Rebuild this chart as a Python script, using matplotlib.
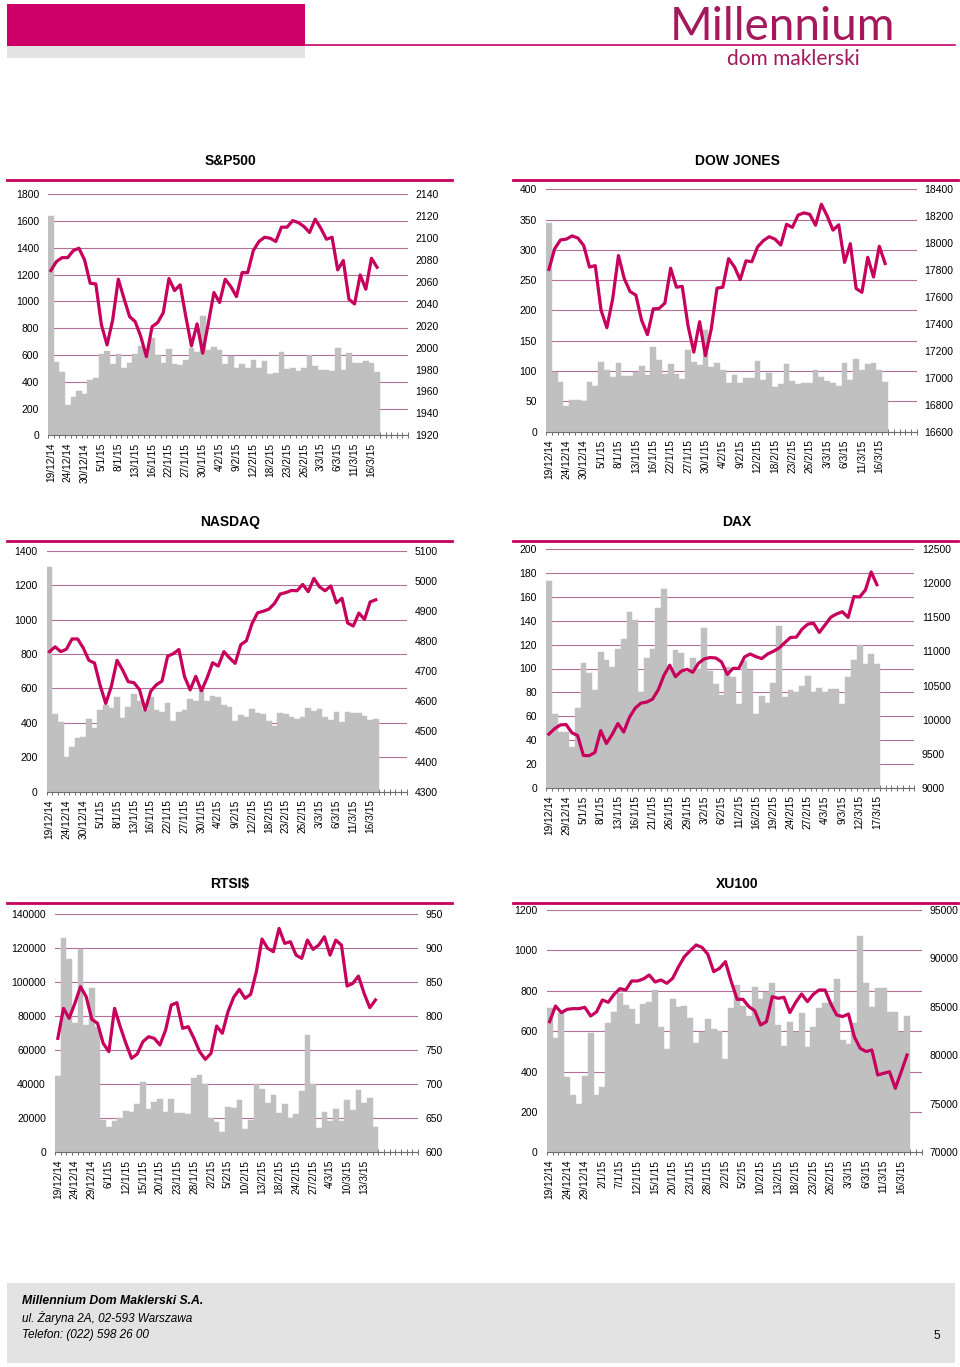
"""
Millennium DM page 5: six index panels (turnover bars + index line).
"""

import numpy as np
import matplotlib
matplotlib.use("Agg")
import matplotlib.pyplot as plt
from matplotlib.patches import Rectangle

plt.rcParams["font.family"] = ["Liberation Sans", "DejaVu Sans"]

# ---- data ----
SP_LABELS = ["19/12/14", "24/12/14", "30/12/14", "5/1/15", "8/1/15", "13/1/15", "16/1/15",
             "22/1/15", "27/1/15", "30/1/15", "4/2/15", "9/2/15", "12/2/15", "18/2/15",
             "23/2/15", "26/2/15", "3/3/15", "6/3/15", "11/3/15", "16/3/15"]
SP_VOL = [1638, 548, 473, 224, 284, 331, 306, 413, 426, 610, 630, 535, 605, 503, 538, 610,
          670, 600, 730, 600, 540, 645, 535, 528, 565, 650, 620, 890, 640, 660, 640, 530,
          590, 500, 535, 505, 560, 500, 555, 458, 462, 620, 495, 500, 478, 505, 600, 515,
          488, 488, 480, 652, 490, 615, 540, 540, 555, 540, 475]
SP_IDX = [2070.4, 2078.6, 2082.2, 2082.2, 2088.6, 2090.8, 2080.1, 2058.8, 2058.2, 2020.8,
          2002.5, 2025.3, 2062.5, 2045.1, 2028.4, 2023.8, 2010.1, 1991.8, 2019.2, 2022.9,
          2032.0, 2063.1, 2052.1, 2057.3, 2028.4, 2001.6, 2021.7, 1994.9, 2022.3, 2050.3,
          2041.2, 2062.5, 2055.8, 2046.6, 2068.5, 2068.5, 2088.6, 2096.9, 2100.8, 2099.9,
          2096.9, 2110.0, 2110.0, 2116.0, 2114.2, 2110.6, 2105.1, 2117.3, 2109.0, 2099.0,
          2100.8, 2071.0, 2079.5, 2044.2, 2039.9, 2066.4, 2053.3, 2081.6, 2073.4]

DJ_LABELS = SP_LABELS
DJ_VOL = [344, 98, 82, 42, 52, 53, 50, 82, 75, 115, 101, 91, 114, 92, 92, 99, 109, 94, 140,
          118, 95, 111, 96, 87, 135, 115, 110, 168, 107, 113, 102, 80, 94, 81, 89, 89, 117,
          85, 97, 74, 79, 111, 84, 79, 80, 81, 101, 90, 84, 81, 75, 114, 85, 120, 101, 111,
          114, 102, 82]
DJ_IDX = [17805, 17959, 18024, 18030, 18054, 18038, 17983, 17823, 17833, 17502, 17372, 17585,
          17908, 17737, 17641, 17614, 17427, 17321, 17512, 17515, 17554, 17814, 17673, 17679,
          17387, 17191, 17417, 17165, 17361, 17666, 17673, 17885, 17824, 17729, 17869, 17862,
          17972, 18019, 18048, 18030, 17986, 18140, 18117, 18209, 18225, 18214, 18133, 18289,
          18203, 18097, 18136, 17857, 17996, 17663, 17635, 17895, 17749, 17977, 17849]

NQ_LABELS = SP_LABELS
NQ_VOL = [1307, 449, 403, 199, 261, 310, 316, 422, 368, 474, 503, 484, 552, 430, 494, 567,
          528, 474, 552, 474, 465, 517, 412, 465, 474, 536, 528, 590, 527, 556, 552, 503,
          494, 410, 445, 436, 480, 459, 451, 410, 381, 459, 453, 432, 422, 436, 484, 468,
          480, 436, 416, 463, 403, 461, 459, 455, 439, 416, 420]
NQ_IDX = [4765, 4781, 4765, 4773, 4807, 4807, 4777, 4736, 4727, 4653, 4593, 4650, 4736, 4704,
          4665, 4662, 4639, 4571, 4634, 4655, 4667, 4750, 4758, 4772, 4682, 4638, 4683, 4635,
          4677, 4728, 4717, 4765, 4744, 4726, 4788, 4801, 4858, 4894, 4899, 4906, 4925, 4956,
          4961, 4968, 4967, 4988, 4964, 5008, 4980, 4967, 4983, 4927, 4942, 4860, 4850, 4893,
          4872, 4930, 4937]

DAX_LABELS = ["19/12/14", "29/12/14", "5/1/15", "8/1/15", "13/1/15", "16/1/15", "21/1/15",
              "26/1/15", "29/1/15", "3/2/15", "6/2/15", "11/2/15", "16/2/15", "19/2/15",
              "24/2/15", "27/2/15", "4/3/15", "9/3/15", "12/3/15", "17/3/15"]
DAX_VOL = [173, 61.5, 47, 46.4, 34.4, 67, 105, 96, 82, 114, 107, 101, 116, 124.5, 147.4,
           140.7, 80, 109, 116, 150.5, 167, 100, 115.5, 112.7, 97, 108.5, 100, 133.7, 98, 87,
           78, 101, 93, 70, 106, 99, 61.5, 77, 71, 87.5, 135.6, 76, 82, 80.5, 85, 94, 80, 84,
           80, 82.5, 82.5, 70, 92.6, 107, 119.4, 104, 112, 104]
DAX_IDX = [9787, 9866, 9922, 9927, 9806, 9765, 9473, 9470, 9518, 9838, 9649, 9782, 9942,
           9817, 10033, 10168, 10242, 10257, 10299, 10436, 10650, 10798, 10629, 10711, 10738,
           10694, 10828, 10891, 10911, 10905, 10846, 10664, 10752, 10752, 10920, 10963, 10923,
           10896, 10962, 11002, 11051, 11131, 11206, 11210, 11328, 11402, 11414, 11280, 11390,
           11504, 11551, 11583, 11500, 11806, 11799, 11902, 12168, 11981]

RTS_LABELS = ["19/12/14", "24/12/14", "29/12/14", "6/1/15", "12/1/15", "15/1/15", "20/1/15",
              "23/1/15", "28/1/15", "2/2/15", "5/2/15", "10/2/15", "13/2/15", "18/2/15",
              "24/2/15", "27/2/15", "4/3/15", "10/3/15", "13/3/15"]
RTS_VOL = [45100, 126300, 113500, 75900, 119400, 74900, 96900, 73900, 19000, 15100, 18600,
           20000, 24500, 23500, 28400, 41200, 25300, 29400, 31400, 23900, 31400, 22900,
           22900, 22600, 43500, 45500, 40200, 20000, 17600, 11800, 26900, 25900, 30800,
           13500, 19000, 40000, 37100, 28800, 33700, 22900, 28400, 20000, 22400, 36300,
           69000, 40000, 14100, 23500, 18400, 25300, 18400, 30800, 24900, 36700, 29200,
           31800, 15100]
RTS_IDX = [767.6, 811.7, 797.0, 819.0, 843.5, 828.8, 795.5, 789.7, 760.2, 748.0, 811.7,
           784.7, 760.2, 738.2, 744.6, 762.7, 770.0, 767.6, 757.8, 779.8, 816.6, 820.0,
           782.3, 784.7, 767.6, 748.0, 736.7, 745.5, 785.7, 775.0, 806.8, 827.9, 839.6,
           826.4, 832.3, 865.6, 913.6, 899.9, 895.0, 929.3, 907.2, 909.7, 890.0, 885.2,
           912.1, 898.4, 904.8, 917.0, 890.0, 912.0, 904.8, 844.5, 848.4, 859.2, 833.7,
           812.7, 824.0]

XU_LABELS = ["19/12/14", "24/12/14", "29/12/14", "2/1/15", "7/1/15", "12/1/15", "15/1/15",
             "20/1/15", "23/1/15", "28/1/15", "2/2/15", "5/2/15", "10/2/15", "13/2/15",
             "18/2/15", "23/2/15", "26/2/15", "3/3/15", "6/3/15", "11/3/15", "16/3/15"]
XU_VOL = [716, 568, 688, 375, 284, 239, 378, 589, 284, 325, 642, 696, 787, 729, 708, 635,
          733, 746, 804, 619, 510, 757, 721, 726, 665, 543, 597, 658, 609, 602, 460, 716,
          828, 724, 675, 817, 759, 795, 836, 630, 526, 643, 594, 688, 523, 622, 713, 741,
          745, 858, 556, 536, 639, 1073, 836, 721, 812, 812, 696, 693, 597, 675]
XU_IDX = [83481, 85097, 84410, 84754, 84822, 84822, 84960, 84066, 84478, 85717, 85476, 86301,
          86886, 86748, 87677, 87677, 87883, 88296, 87573, 87780, 87436, 87952, 89155, 90187,
          90806, 91391, 91150, 90428, 88639, 88983, 89671, 87607, 85785, 85785, 85028, 84616,
          83137, 83481, 86060, 85888, 85991, 84410, 85476, 86335, 85545, 86301, 86748, 86748,
          85300, 84166, 84000, 84270, 81927, 80730, 80400, 80555, 77975, 78150, 78316, 76600,
          78300, 80040]

# ---- style / layout ----
W, H = 960, 1367
SLOTS = 64
BAR = "#C0C0C0"
LINE = "#C6005C"
GRID = "#B46F98"
AXIS = "#6E6E6E"
MAGENTA = "#CC0066"
LOGO = "#A3195B"
FOOT = "#E3E3E3"


def fig_rect(x0, y0, x1, y1):
    return [x0 / W, 1 - y1 / H, (x1 - x0) / W, (y1 - y0) / H]


def draw_panel(fig, box, vol, idx, labels, left_ticks, right_ticks):
    ax = fig.add_axes(fig_rect(*box))
    x = np.arange(len(vol)) + 0.5
    ax.bar(x, vol, width=1.0, color=BAR, edgecolor=BAR, linewidth=0.3, zorder=2)
    ax.set_xlim(0, SLOTS)
    ax.set_ylim(left_ticks[0], left_ticks[-1])
    ax.set_yticks(left_ticks)
    ax.yaxis.grid(True, color=GRID, linewidth=0.8)
    ax.set_axisbelow(True)
    for side in ["top", "left", "right"]:
        ax.spines[side].set_visible(False)
    ax.spines["bottom"].set_color(AXIS)
    ax.spines["bottom"].set_linewidth(0.8)
    ax.spines["bottom"].set_zorder(4)

    ax.set_xticks(x[::3])
    ax.set_xticklabels(labels, rotation=90)
    ax.set_xticks(np.arange(SLOTS + 1), minor=True)
    ax.tick_params(axis="x", which="major", length=0, pad=5.5, labelsize=7.3)
    ax.tick_params(axis="x", which="minor", direction="inout", length=5,
                   width=0.7, color=AXIS)
    ax.tick_params(axis="y", length=0, pad=6.5, labelsize=7.5)

    ax2 = ax.twinx()
    ax2.plot(x, idx, color=LINE, linewidth=2.3, solid_joinstyle="round", zorder=3)
    ax2.set_ylim(right_ticks[0], right_ticks[-1])
    ax2.set_yticks(right_ticks)
    ax2.tick_params(axis="y", length=0, pad=5.5, labelsize=7.5)
    for s in ax2.spines.values():
        s.set_visible(False)
    return ax, ax2


def main() -> None:
    fig = plt.figure(figsize=(W / 100, H / 100), dpi=100)

    # page furniture in pixel coordinates
    bg = fig.add_axes([0, 0, 1, 1], zorder=-5)
    bg.set_xlim(0, W)
    bg.set_ylim(H, 0)
    bg.axis("off")

    bg.add_patch(Rectangle((7, 4), 298, 42, color=MAGENTA, lw=0))
    bg.add_patch(Rectangle((7, 46), 298, 12, color=FOOT, lw=0))
    bg.plot([305, 955], [45, 45], color=MAGENTA, lw=1.2)
    bg.text(783, 40, "Millennium", ha="center", va="baseline", fontsize=33,
            family=["Lato", "DejaVu Sans"], color=LOGO)
    bg.text(793, 59, "dom maklerski", ha="center", va="center", fontsize=15,
            family=["Lato", "DejaVu Sans"], color=LOGO)

    titles = [("S&P500", 230, 161, 7, 452, 180), ("DOW JONES", 737, 161, 513, 958, 180),
              ("NASDAQ", 230, 522, 7, 452, 541), ("DAX", 737, 522, 513, 958, 541),
              ("RTSI$", 230, 884, 7, 452, 903), ("XU100", 737, 884, 513, 958, 903)]
    for text, tx, ty, lx0, lx1, ly in titles:
        bg.text(tx, ty, text, ha="center", va="center", fontsize=10, fontweight="bold")
        bg.plot([lx0, lx1], [ly, ly], color=LINE, lw=2)

    # footer
    bg.add_patch(Rectangle((7, 1283), 948, 80, color=FOOT, lw=0))
    bg.text(22, 1301, "Millennium Dom Maklerski S.A.", fontsize=8.8, fontweight="bold",
            style="italic", va="center")
    bg.text(22, 1318, "ul. Żaryna 2A, 02-593 Warszawa", fontsize=8.5, style="italic",
            va="center")
    bg.text(22, 1335, "Telefon: (022) 598 26 00", fontsize=8.5, style="italic",
            va="center")
    bg.text(937, 1336, "5", fontsize=8.5, va="center", ha="center")

    draw_panel(fig, (48, 194.3, 408, 435.3), SP_VOL, SP_IDX, SP_LABELS,
               np.arange(0, 1801, 200), np.arange(1920, 2141, 20))
    draw_panel(fig, (546, 189.3, 917, 431.7), DJ_VOL, DJ_IDX, DJ_LABELS,
               np.arange(0, 401, 50), np.arange(16600, 18401, 200))
    draw_panel(fig, (46.7, 550.7, 406.7, 791.7), NQ_VOL, NQ_IDX, NQ_LABELS,
               np.arange(0, 1401, 200), np.arange(4300, 5101, 100))
    draw_panel(fig, (546, 549.3, 914.3, 787.7), DAX_VOL, DAX_IDX, DAX_LABELS,
               np.arange(0, 201, 20), np.arange(9000, 12501, 500))
    draw_panel(fig, (55, 914.3, 418, 1152.3), RTS_VOL, RTS_IDX, RTS_LABELS,
               np.arange(0, 140001, 20000), np.arange(600, 951, 50))
    draw_panel(fig, (546.7, 910, 921.7, 1152.3), XU_VOL, XU_IDX, XU_LABELS,
               np.arange(0, 1201, 200), np.arange(70000, 95001, 5000))

    fig.savefig("out.png", dpi=100)
    plt.close(fig)


if __name__ == "__main__":
    main()
